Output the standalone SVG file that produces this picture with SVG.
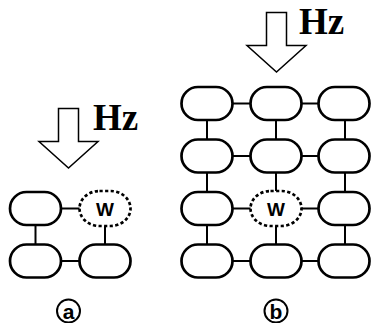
<svg xmlns="http://www.w3.org/2000/svg" width="371" height="323" viewBox="0 0 371 323">
  <style>
    .node { fill: #fff; stroke: #000; stroke-width: 2.7; }
    .wnode { fill: #fff; stroke: #000; stroke-width: 2.7; stroke-dasharray: 3.2 2.4; }
    .link { stroke: #000; stroke-width: 2; fill: none; }
    .arrow { fill: #fff; stroke: #000; stroke-width: 1.5; stroke-linejoin: miter; }
    .hz { font-family: "Liberation Serif", "Times New Roman", serif; font-weight: bold; font-size: 37px; fill: #000; }
    .w { font-family: "Liberation Sans", Arial, sans-serif; font-weight: bold; font-size: 19px; fill: #000; text-anchor: middle; }
    .tag { font-family: "Liberation Sans", Arial, sans-serif; font-weight: bold; font-size: 21px; fill: #000; text-anchor: middle; }
    .ring { fill: none; stroke: #000; stroke-width: 2; }
  </style>
  <defs>
    <rect id="pill" x="-25.5" y="-16.5" width="51" height="33" rx="16.5" ry="16.5"/>
    <path id="down" d="M -10 0 H 10 V 33 H 29.5 L 0 59.5 L -29.5 33 H -10 Z"/>
  </defs>

  <!-- connectors -->
  <g id="connectors">
    <!-- panel a -->
    <line class="link" x1="61" y1="208.5" x2="80" y2="208.5"/>
    <line class="link" x1="35.5" y1="225" x2="35.5" y2="244"/>
    <line class="link" x1="105" y1="226" x2="105" y2="244"/>
    <line class="link" x1="61" y1="261" x2="80" y2="261"/>
    <!-- panel b: horizontal -->
    <line class="link" x1="232" y1="103.5" x2="251" y2="103.5"/>
    <line class="link" x1="301" y1="103.5" x2="319" y2="103.5"/>
    <line class="link" x1="232" y1="156" x2="251" y2="156"/>
    <line class="link" x1="301" y1="156" x2="319" y2="156"/>
    <line class="link" x1="232" y1="208.5" x2="251" y2="208.5"/>
    <line class="link" x1="301" y1="208.5" x2="319" y2="208.5"/>
    <line class="link" x1="232" y1="261" x2="251" y2="261"/>
    <line class="link" x1="301" y1="261" x2="319" y2="261"/>
    <!-- panel b: vertical -->
    <line class="link" x1="207" y1="120" x2="207" y2="140"/>
    <line class="link" x1="276" y1="120" x2="276" y2="140"/>
    <line class="link" x1="345" y1="120" x2="345" y2="140"/>
    <line class="link" x1="207" y1="172" x2="207" y2="192"/>
    <line class="link" x1="276" y1="172" x2="276" y2="192"/>
    <line class="link" x1="345" y1="172" x2="345" y2="192"/>
    <line class="link" x1="207" y1="225" x2="207" y2="245"/>
    <line class="link" x1="276" y1="226" x2="276" y2="245"/>
    <line class="link" x1="345" y1="225" x2="345" y2="245"/>
  </g>

  <!-- panel a -->
  <g id="arrow-a"><use href="#down" class="arrow" transform="translate(68.5,108.5)"/></g>
  <g id="hz-a"><text class="hz" x="93" y="130">Hz</text></g>
  <g id="a-r1c1"><use href="#pill" class="node" transform="translate(35.5,208.5)"/></g>
  <g id="a-r1c2"><rect class="wnode" x="79.5" y="191" width="51" height="35" rx="20" ry="17.5"/><text class="w" x="105" y="215.5">W</text></g>
  <g id="a-r2c1"><use href="#pill" class="node" transform="translate(35.5,261)"/></g>
  <g id="a-r2c2"><use href="#pill" class="node" transform="translate(105,261)"/></g>
  <g id="tag-a"><circle class="ring" cx="68.5" cy="311" r="11.5"/><text class="tag" x="68.5" y="318.5">a</text></g>

  <!-- panel b -->
  <g id="arrow-b"><use href="#down" class="arrow" transform="translate(276.5,12.5)"/></g>
  <g id="hz-b"><text class="hz" x="299" y="34">Hz</text></g>
  <g id="b-r1c1"><use href="#pill" class="node" transform="translate(207,103.5)"/></g>
  <g id="b-r1c2"><use href="#pill" class="node" transform="translate(276,103.5)"/></g>
  <g id="b-r1c3"><use href="#pill" class="node" transform="translate(344,103.5)"/></g>
  <g id="b-r2c1"><use href="#pill" class="node" transform="translate(207,156)"/></g>
  <g id="b-r2c2"><use href="#pill" class="node" transform="translate(276,156)"/></g>
  <g id="b-r2c3"><use href="#pill" class="node" transform="translate(344,156)"/></g>
  <g id="b-r3c1"><use href="#pill" class="node" transform="translate(207,208.5)"/></g>
  <g id="b-r3c2"><rect class="wnode" x="250.5" y="191" width="51" height="35" rx="20" ry="17.5"/><text class="w" x="276" y="215.5">W</text></g>
  <g id="b-r3c3"><use href="#pill" class="node" transform="translate(344,208.5)"/></g>
  <g id="b-r4c1"><use href="#pill" class="node" transform="translate(207,261)"/></g>
  <g id="b-r4c2"><use href="#pill" class="node" transform="translate(276,261)"/></g>
  <g id="b-r4c3"><use href="#pill" class="node" transform="translate(344,261)"/></g>
  <g id="tag-b"><circle class="ring" cx="276" cy="311" r="11.5"/><text class="tag" x="276" y="318.5">b</text></g>
</svg>
